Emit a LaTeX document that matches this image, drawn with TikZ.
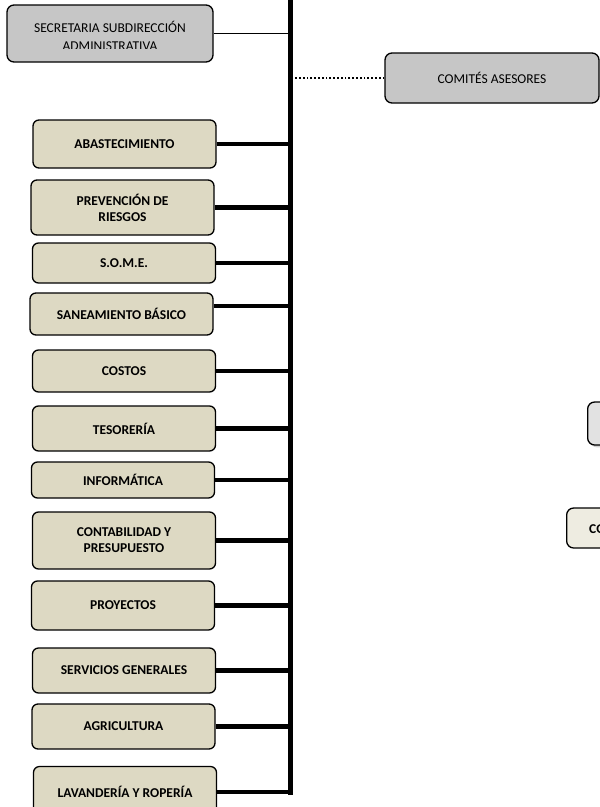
\documentclass[tikz,border=0pt]{standalone}
\usepackage{fontspec}
\setmainfont{Carlito}
\usepackage{tikz}
\usepackage{xcolor}
\usetikzlibrary{shadows}
\definecolor{tan-fill}{HTML}{DDD9C3}
\definecolor{grey-fill}{HTML}{C6C6C6}
\definecolor{light-grey}{HTML}{E2E2E2}
\definecolor{cream-fill}{HTML}{EEECE1}
\tikzset{
    dept-box/.style = {draw=black, fill=tan-fill, line width=1.3pt, rectangle, rounded corners=6pt, minimum width=183pt, inner sep=0pt, align=center, font=\fontsize{13.5}{16}\selectfont\bfseries},
    grey-box/.style = {draw=black, fill=grey-fill, line width=1.3pt, rectangle, rounded corners=7pt, inner sep=0pt, align=center, font=\fontsize{13.5}{18}\selectfont},
    bus-link/.style = {line width=4.5pt},
}

\begin{document}
\begin{tikzpicture}[x=1pt,y=-1pt]
\useasboundingbox (0,0) rectangle (600,807);
\clip (0,0) rectangle (600,807);

\coordinate (bus-top) at (290.5,-5);
\coordinate (bus-bottom) at (290.5,795);

\node[grey-box, minimum width=206pt, minimum height=57pt] (secretaria) at (110,33.5) {};
\begin{scope}
\clip (secretaria.north west) rectangle (213,48.5);
\node[font=\fontsize{13.5}{18}\selectfont, align=center] (secretaria-text) at (110,36) {SECRETARIA SUBDIRECCIÓN\\ADMINISTRATIVA};
\end{scope}
\node[grey-box, minimum width=214pt, minimum height=50pt] (comites) at (492,78) {COMITÉS ASESORES};

\node[dept-box, minimum height=48pt] (abast) at (124.5,144) {ABASTECIMIENTO};
\node[dept-box, minimum height=55pt] (prev) at (122.5,207.5) {PREVENCIÓN DE\\RIESGOS};
\node[dept-box, minimum height=40pt] (some) at (124,263) {S.O.M.E.};
\node[dept-box, minimum height=42pt] (sanea) at (121.5,314) {SANEAMIENTO BÁSICO};
\node[dept-box, minimum height=42pt] (costos) at (124,371) {COSTOS};
\node[dept-box, minimum height=45pt] (tesor) at (124,428.5) {TESORERÍA};
\node[dept-box, minimum height=36pt] (infor) at (123,480) {INFORMÁTICA};
\node[dept-box, minimum height=57pt] (conta) at (124,540.5) {CONTABILIDAD Y\\PRESUPUESTO};
\node[dept-box, minimum height=49pt] (proy) at (123,605.5) {PROYECTOS};
\node[dept-box, minimum height=45pt] (servi) at (124,670.5) {SERVICIOS GENERALES};
\node[dept-box, minimum height=45pt] (agri) at (123.5,726.5) {AGRICULTURA};
\node[dept-box, minimum height=51pt] (lavan) at (125,792) {LAVANDERÍA Y ROPERÍA};

% boxes cut by the right edge
\node[draw=black, fill=light-grey, line width=1.3pt, rounded corners=7pt, drop shadow={opacity=0.35}, minimum width=120pt, minimum height=43pt, anchor=west] (side-grey) at (587,423.5) {};
\node[draw=black, fill=cream-fill, line width=1.3pt, rounded corners=7pt, minimum width=120pt, minimum height=40pt, anchor=west] (side-cream) at (566,528) {};
\node[font=\fontsize{13.5}{16}\selectfont\bfseries, inner sep=0pt, anchor=west] (side-cream-text) at (589,529) {CO};

% links to the bus
\draw[line width=0.9pt] (secretaria.east) -- (secretaria.east -| bus-top);
\draw[line width=1.8pt, dotted] (comites.west) -- (comites.west -| bus-top);
\draw[bus-link] (abast.east) -- (abast.east -| bus-top);
\draw[bus-link] (prev.east) -- (prev.east -| bus-top);
\draw[bus-link] (some.east) -- (some.east -| bus-top);
\draw[bus-link] ([yshift=8pt]sanea.east) -- ([yshift=8pt]sanea.east -| bus-top);
\draw[bus-link] (costos.east) -- (costos.east -| bus-top);
\draw[bus-link] (tesor.east) -- (tesor.east -| bus-top);
\draw[bus-link] (infor.east) -- (infor.east -| bus-top);
\draw[bus-link] (conta.east) -- (conta.east -| bus-top);
\draw[bus-link] (proy.east) -- (proy.east -| bus-top);
\draw[bus-link] (servi.east) -- (servi.east -| bus-top);
\draw[bus-link] (agri.east) -- (agri.east -| bus-top);
\draw[bus-link] (lavan.east) -- (lavan.east -| bus-top);
\draw[line width=5.5pt] (bus-top) -- (bus-bottom);
\end{tikzpicture}
\end{document}
